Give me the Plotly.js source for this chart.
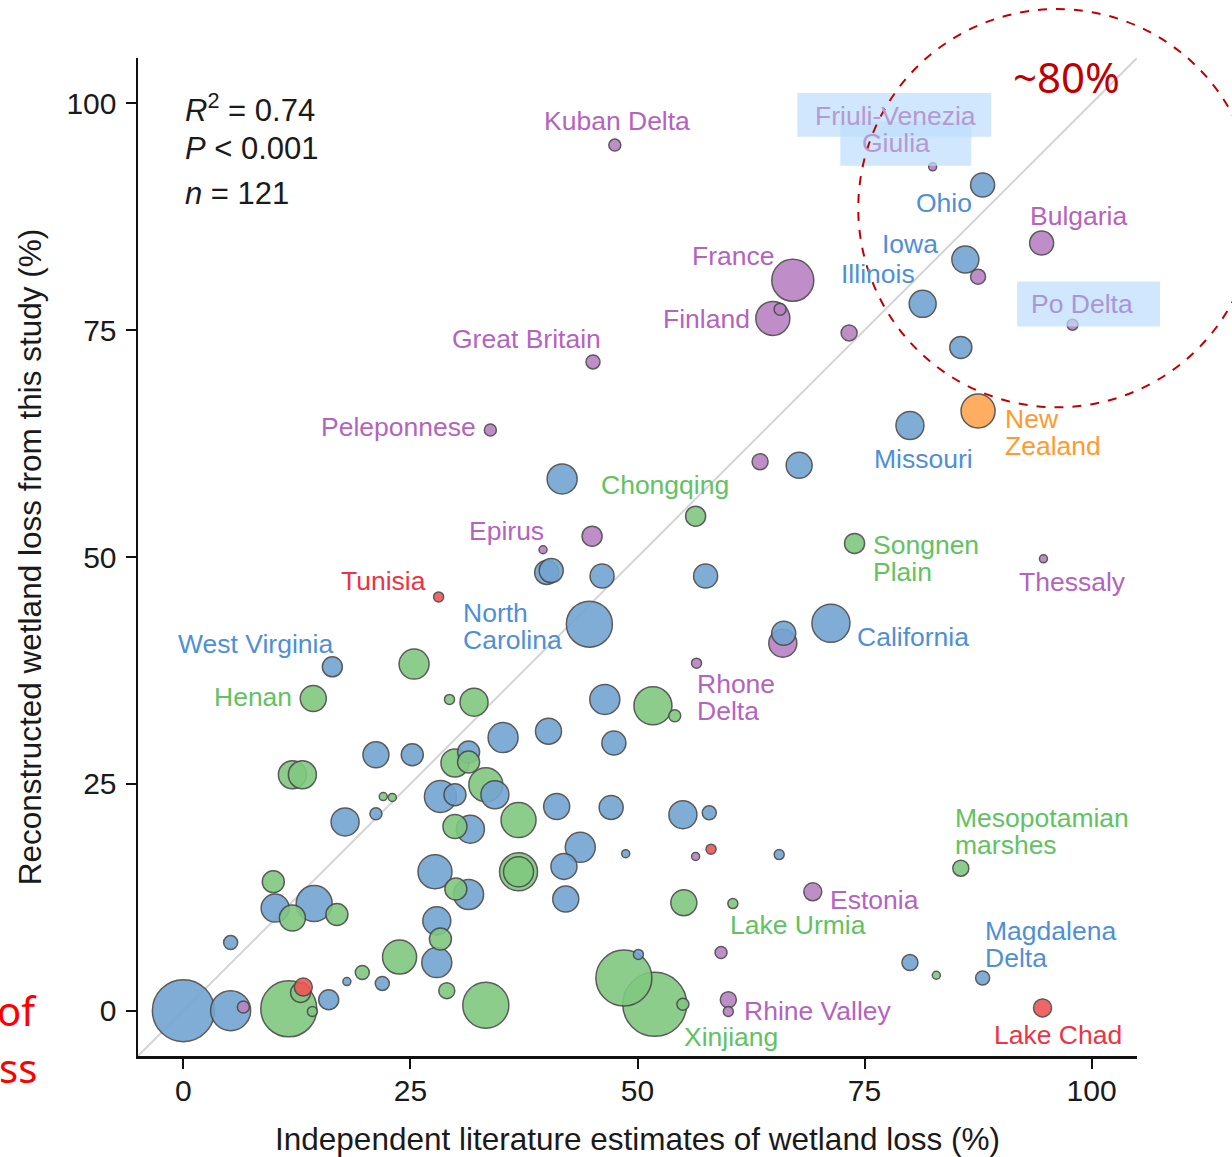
<!DOCTYPE html>
<html><head><meta charset="utf-8">
<script src="https://cdn.plot.ly/plotly-3.0.1.min.js"></script>
<style>html,body{margin:0;padding:0;background:#fff;} #chart{width:1232px;height:1157px;}</style>
</head><body><div id="chart"></div>
<script>
// ---- Data (x: independent literature estimate %, y: reconstructed %, area: relative wetland area) ----
const blueX = [88.0,86.1,81.4,85.6,80.0,41.7,67.8,40.0,40.5,46.1,57.5,44.7,71.3,66.1,16.4,46.4,40.2,47.4,35.2,31.4,21.2,25.2,28.3,29.9,34.3,21.2,17.8,41.1,47.1,55.0,57.9,31.6,43.7,41.9,48.7,65.6,27.7,31.4,42.1,10.1,14.4,27.9,27.9,5.2,18.0,21.9,0.0,5.2,16.0,50.1,80.0,88.0];
const blueY = [91.0,82.8,77.9,73.1,64.5,58.6,60.1,48.3,48.5,47.9,47.9,42.6,42.7,41.6,37.9,34.3,30.8,29.5,30.1,28.5,28.2,28.2,23.6,23.8,23.8,21.7,20.8,22.5,22.4,21.6,21.8,20.0,18.0,15.9,17.3,17.2,15.3,12.8,12.3,11.3,11.8,9.9,5.3,7.5,3.2,3.0,0.0,0.0,1.2,6.2,5.3,3.6];
const blueArea = [5.76,7.29,7.29,4.84,7.84,9.0,6.76,5.76,5.76,5.76,5.76,21.16,14.44,5.76,4.0,9.0,6.76,5.76,9.0,4.84,6.76,4.84,10.24,4.84,7.84,1.44,7.84,6.76,5.76,7.84,1.96,7.84,9.0,6.76,0.64,1.0,11.56,9.0,6.76,7.84,12.96,7.84,9.0,1.96,0.64,1.96,38.44,16.0,4.0,1.0,2.56,1.96];

const purpleX = [47.5,82.5,94.5,87.5,97.9,73.3,67.1,64.9,65.7,45.1,33.8,63.5,45.0,39.6,94.7,66.0,56.5,56.4,69.3,59.2,60.0,60.0,6.6];
const purpleY = [95.4,93.0,84.6,80.9,75.6,74.7,80.5,76.3,77.3,71.5,64.0,60.5,52.3,50.8,49.8,40.5,38.3,17.0,13.1,6.4,1.2,-0.1,0.4];
const purpleArea = [1.44,0.64,5.76,2.25,1.21,2.56,17.64,11.56,1.44,1.96,1.44,2.56,4.0,0.64,0.64,7.84,1.0,0.64,3.24,1.44,2.56,1.0,1.44];

const greenX = [56.4,73.9,25.4,14.3,29.3,32.0,51.7,54.1,12.0,13.1,22.0,23.0,29.9,31.4,33.3,36.9,29.9,36.9,36.9,30.0,55.1,60.5,85.6,9.9,12.0,16.9,28.3,23.8,19.7,29.0,33.3,48.5,51.9,55.0,11.6,12.9,14.2,82.9];
const greenY = [54.5,51.5,38.2,34.4,34.3,34.0,33.6,32.5,26.0,26.0,23.6,23.5,27.3,27.4,24.9,21.0,20.3,15.3,15.3,13.4,11.9,11.8,15.7,14.2,10.2,10.6,7.9,5.9,4.2,2.2,0.6,3.6,0.7,0.7,0.2,2.0,-0.1,3.9];
const greenArea = [4.0,4.0,9.0,6.76,1.0,7.84,14.44,1.44,7.84,7.84,0.64,0.64,7.84,4.84,11.56,12.25,5.76,14.44,9.0,4.84,6.76,1.0,2.56,4.84,6.76,4.84,4.84,11.56,1.96,2.56,21.16,31.36,40.96,1.44,31.36,4.0,1.0,0.64];

const redX = [28.1,58.1,13.2,94.6];
const redY = [45.6,17.8,2.6,0.3];
const redArea = [1.0,1.0,3.24,3.24];

const orangeX = [87.5];
const orangeY = [66.1];
const orangeArea = [11.56];

// labelled sites: name, group, index in group
const labelNames = ['Kuban Delta','Friuli-Venezia\nGiulia','Ohio','Bulgaria','Iowa','Illinois','Po Delta','France','Finland','Great Britain','Peleponnese','New\nZealand','Missouri','Chongqing','Epirus','Songnen\nPlain','Thessaly','Tunisia','North\nCarolina','California','West Virginia','Henan','Rhone\nDelta','Mesopotamian\nmarshes','Estonia','Lake Urmia','Magdalena\nDelta','Rhine Valley','Xinjiang','Lake Chad'];
const labelGroups = ['purple','purple','blue','purple','blue','blue','purple','purple','purple','purple','purple','orange','blue','green','purple','green','purple','red','blue','blue','blue','green','purple','green','purple','green','blue','purple','green','red'];
const labelIndex = [0,1,0,2,1,2,4,6,7,9,10,0,4,0,13,1,14,0,11,12,14,3,16,22,18,21,51,20,32,3];

const axisTicks = [0,25,50,75,100];
const statLines = ['<i>R</i><sup>2</sup> = 0.74','<i>P</i> &lt; 0.001','<i>n</i> = 121'];

// ---- Styling ----
const groups = {
  blue:   {x: blueX, y: blueY, a: blueArea, fill: '#73a5d2', text: '#4f8fd6'},
  purple: {x: purpleX, y: purpleY, a: purpleArea, fill: '#b982c3', text: '#b463c0'},
  green:  {x: greenX, y: greenY, a: greenArea, fill: '#80c880', text: '#62c262'},
  red:    {x: redX, y: redY, a: redArea, fill: '#ef5555', text: '#ee3344'},
  orange: {x: orangeX, y: orangeY, a: orangeArea, fill: '#ffa54f', text: '#ff9a30'}
};
// label placement: [xanchor, dx (px right), dy (px up, block centre)]
const labelStyle = [
  ['center',2,24],['center',-37,37.5],['center',-39,-18],['center',37,27],['center',-55,15],['center',-45,30],
  ['center',9,21],['center',-60,24],['center',-66,-1],['center',-67,23],['center',-92,3],['left',25,-21.5],
  ['center',14,-34],['center',-31,31],['center',-37,19],['left',16,-15.5],['center',29,-23],['center',-55,16],
  ['left',-128,-2.5],['left',24,-14],['center',-77,23],['center',-60,2],['left',-2,-34.5],['left',-8,36.5],
  ['left',15,-8],['left',-5,-21],['left',0,33.5],['left',14,-11],['left',27,-33],['center',15,-27]
];
const fadedLabels = {'Friuli-Venezia\nGiulia': '#b39ad6', 'Po Delta': '#a996d6'};
const LABEL_FONT = 26.5, LINE_GAP = 27;
const FONT = '"Liberation Sans", Arial, Helvetica, sans-serif';

// combine points, draw larger bubbles first
const pts = [];
Object.keys(groups).forEach(g => {
  const G = groups[g];
  G.x.forEach((v, i) => pts.push({x: v, y: G.y[i], a: G.a[i], c: G.fill}));
});
pts.sort((p, q) => q.a - p.a);

const traces = [
  {x: [-5, 105], y: [-5, 105], mode: 'lines', line: {color: '#d4d4d4', width: 2}, hoverinfo: 'skip', showlegend: false},
  {x: pts.map(p => p.x), y: pts.map(p => p.y), mode: 'markers', showlegend: false,
   marker: {size: pts.map(p => p.a), sizemode: 'area', sizeref: 0.02, color: pts.map(p => p.c), opacity: 0.9,
            line: {color: '#4a4a4a', width: 1.5}}}
];

const annotations = [];
labelNames.forEach((name, k) => {
  const G = groups[labelGroups[k]];
  const i = labelIndex[k];
  const st = labelStyle[k];
  const lines = name.split('\n');
  const n = lines.length;
  lines.forEach((ln, j) => {
    const off = ((n - 1) / 2 - j) * LINE_GAP;
    annotations.push({x: G.x[i], y: G.y[i], xref: 'x', yref: 'y', text: ln, showarrow: false,
      xanchor: st[0], yanchor: 'middle', xshift: st[1], yshift: st[2] + off,
      font: {family: FONT, size: LABEL_FONT, color: fadedLabels[name] || G.text}});
  });
});
const statY = [0.950, 0.909, 0.864];
statLines.forEach((t, j) => annotations.push({xref: 'paper', yref: 'paper', x: 0.045, y: statY[j], xanchor: 'left', yanchor: 'middle',
  text: t, showarrow: false, font: {family: FONT, size: 31, color: '#1a1a1a'}}));
annotations.push({xref: 'paper', yref: 'paper', x: 0.874, y: 0.981, xanchor: 'left', yanchor: 'middle', text: '~80%', showarrow: false,
  font: {family: '"Noto Sans", "DejaVu Sans", sans-serif', size: 42, color: '#c00000'}});
annotations.push({xref: 'paper', yref: 'paper', x: -0.099, y: 0.046, xanchor: 'right', yanchor: 'middle', text: 'of', showarrow: false,
  font: {family: '"Noto Sans", sans-serif', size: 40, color: '#ff0000'}});
annotations.push({xref: 'paper', yref: 'paper', x: -0.099, y: -0.012, xanchor: 'right', yanchor: 'middle', text: 'ss', showarrow: false,
  font: {family: '"Noto Sans", sans-serif', size: 40, color: '#ff0000'}});

const shapes = [
  {type: 'rect', xref: 'paper', yref: 'paper', x0: 0.660, x1: 0.854, y0: 0.921, y1: 0.965, fillcolor: 'rgba(190,222,252,0.72)', line: {width: 0}, layer: 'above'},
  {type: 'rect', xref: 'paper', yref: 'paper', x0: 0.703, x1: 0.834, y0: 0.892, y1: 0.936, fillcolor: 'rgba(190,222,252,0.72)', line: {width: 0}, layer: 'above'},
  {type: 'rect', xref: 'paper', yref: 'paper', x0: 0.880, x1: 1.023, y0: 0.731, y1: 0.776, fillcolor: 'rgba(190,222,252,0.72)', line: {width: 0}, layer: 'above'},
  {type: 'circle', xref: 'paper', yref: 'paper', x0: 0.721, x1: 1.119, y0: 0.650, y1: 1.049, line: {color: '#c00000', width: 2, dash: 'dash'}, layer: 'above'}
];

const axisCommon = {range: [-5, 105], tickvals: axisTicks, ticktext: axisTicks.map(String), ticks: 'outside', ticklen: 10, tickwidth: 2,
  tickcolor: '#111', showline: true, linecolor: '#111', linewidth: 2.5, showgrid: false, zeroline: false, mirror: false,
  tickfont: {family: FONT, size: 30, color: '#1a1a1a'}, automargin: false, fixedrange: true};

const layout = {
  width: 1232, height: 1157,
  margin: {l: 138, r: 95, t: 58, b: 101},
  paper_bgcolor: '#fff', plot_bgcolor: '#fff',
  xaxis: Object.assign({}, axisCommon, {ticklabelstandoff: -4, title: {text: 'Independent literature estimates of wetland loss (%)', font: {family: FONT, size: 31.5, color: '#1a1a1a'}, standoff: 24}}),
  yaxis: Object.assign({}, axisCommon, {ticklabelstandoff: 3, title: {text: 'Reconstructed wetland loss from this study (%)', font: {family: FONT, size: 31.5, color: '#1a1a1a'}, standoff: 16}}),
  annotations: annotations, shapes: shapes, showlegend: false
};

Plotly.newPlot('chart', traces, layout, {displayModeBar: false, staticPlot: true});
</script></body></html>
